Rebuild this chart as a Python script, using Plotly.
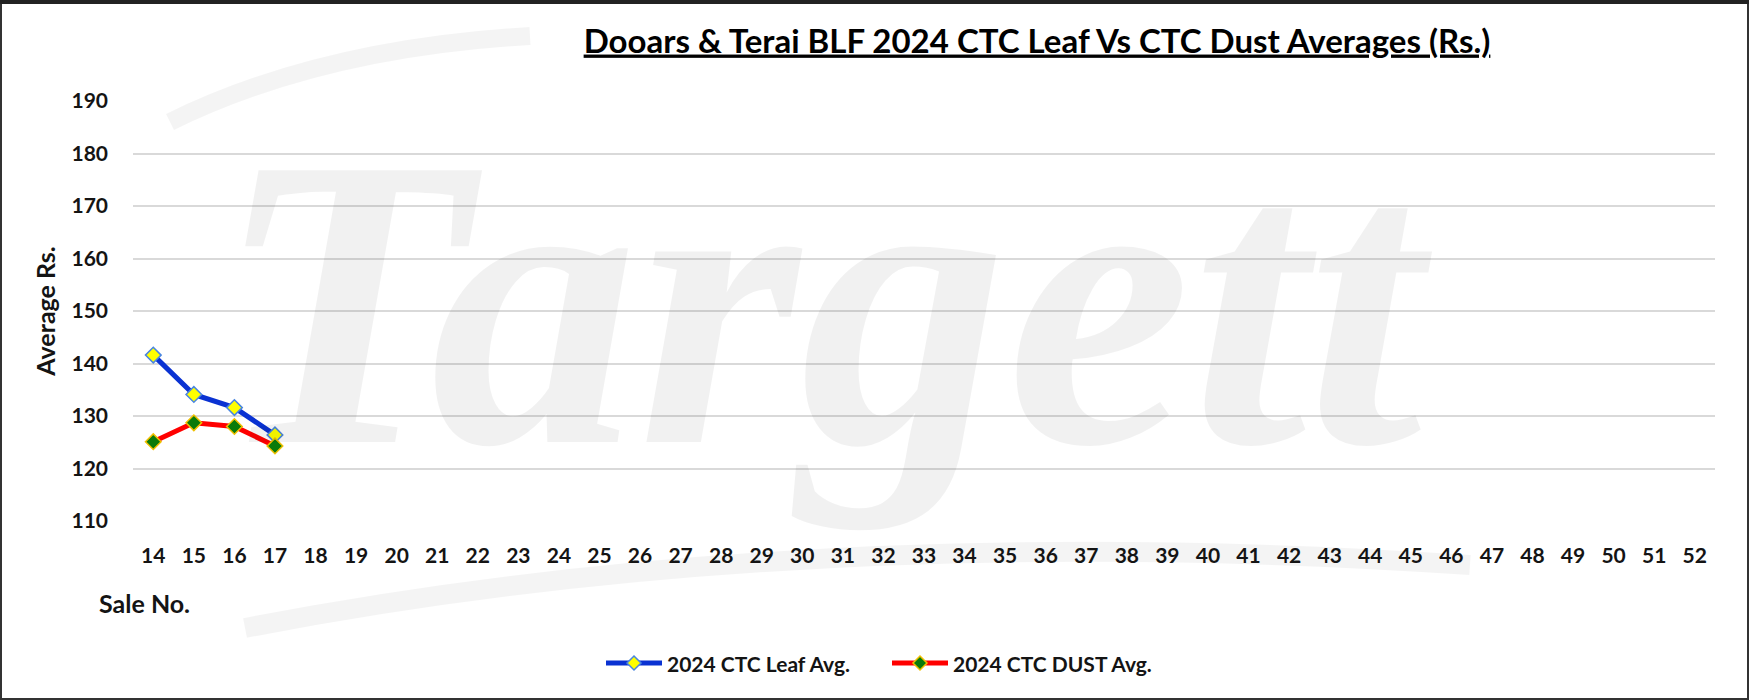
import plotly.graph_objects as go

# Sale numbers on the category axis
sale_no = [str(n) for n in range(14, 53)]

# Averages reported so far (Sales 14-17)
leaf_sales = ["14", "15", "16", "17"]
leaf_avg = [141.6, 134.1, 131.6, 126.4]
dust_sales = ["14", "15", "16", "17"]
dust_avg = [125.1, 128.7, 128.0, 124.3]

y_ticks = [110, 120, 130, 140, 150, 160, 170, 180, 190]

series_names = ["2024 CTC Leaf Avg.", "2024 CTC DUST Avg."]

W, H = 1749, 700
ML, MR, MT, MB = 133, 34, 101, 179
PW, PH = W - ML - MR, H - MT - MB


def px(x):
    return (x - ML) / PW


def py(y):
    return (H - MB - y) / PH


FONT = "Lato"
INK = "#141414"

LEAF_LINE, LEAF_FILL, LEAF_EDGE = "#0a32d2", "#ffff00", "#4a86e0"
DUST_LINE, DUST_FILL, DUST_EDGE = "#ff0000", "#0a7a0a", "#f0c000"

fig = go.Figure()

fig.add_trace(go.Scatter(
    x=leaf_sales, y=leaf_avg, mode="lines+markers", name=series_names[0],
    line=dict(color=LEAF_LINE, width=5),
    marker=dict(symbol="diamond", size=12, color=LEAF_FILL,
                line=dict(color=LEAF_EDGE, width=1.5)),
    showlegend=False,
))
fig.add_trace(go.Scatter(
    x=dust_sales, y=dust_avg, mode="lines+markers", name=series_names[1],
    line=dict(color=DUST_LINE, width=5),
    marker=dict(symbol="diamond", size=12, color=DUST_FILL,
                line=dict(color=DUST_EDGE, width=1.5)),
    showlegend=False,
))


def diamond(cx, cy, r):
    return (f"M {px(cx)} {py(cy - r)} L {px(cx + r)} {py(cy)} "
            f"L {px(cx)} {py(cy + r)} L {px(cx - r)} {py(cy)} Z")


shapes = [
    # outer frame
    dict(type="rect", xref="paper", yref="paper", layer="above",
         x0=px(1), x1=px(W - 1), y0=py(H - 1), y1=py(1),
         line=dict(color="#333333", width=2)),
    dict(type="line", xref="paper", yref="paper", layer="above",
         x0=px(0), x1=px(W), y0=py(2), y1=py(2),
         line=dict(color="#222222", width=4)),
    # faint logo swooshes behind the plot
    dict(type="path", xref="paper", yref="paper", layer="below",
         path=f"M {px(170)} {py(122)} Q {px(320)} {py(48)} {px(530)} {py(36)}",
         line=dict(color="rgba(0,0,0,0.045)", width=18)),
    dict(type="path", xref="paper", yref="paper", layer="below",
         path=f"M {px(245)} {py(628)} Q {px(800)} {py(520)} {px(1470)} {py(565)}",
         line=dict(color="rgba(0,0,0,0.045)", width=20)),
]

# legend drawn by hand: line sample + diamond + label
legend_y = 663
legend_items = [
    (606, 662, 665, series_names[0], LEAF_LINE, LEAF_FILL, LEAF_EDGE),
    (892, 948, 951, series_names[1], DUST_LINE, DUST_FILL, DUST_EDGE),
]
annotations = []
for x0, x1, xt, label, lc, fc, ec in legend_items:
    shapes.append(dict(type="line", xref="paper", yref="paper",
                       x0=px(x0), x1=px(x1), y0=py(legend_y), y1=py(legend_y),
                       line=dict(color=lc, width=5)))
    shapes.append(dict(type="path", xref="paper", yref="paper",
                       path=diamond((x0 + x1) / 2, legend_y, 7),
                       fillcolor=fc, line=dict(color=ec, width=1.5)))
    annotations.append(dict(
        text=f"<b>{label}</b>", xref="paper", yref="paper",
        x=px(xt), y=py(legend_y), xanchor="left", yanchor="middle",
        showarrow=False, font=dict(family=FONT, size=21, color=INK)))

annotations += [
    dict(text="Targett", xref="paper", yref="paper",
         x=px(825), y=py(302), xanchor="center", yanchor="middle",
         showarrow=False,
         font=dict(family="Liberation Serif", size=415,
                   color="rgba(0,0,0,0.055)", weight="bold", style="italic")),
    dict(text="<b>Sale No.</b>", xref="paper", yref="paper",
         x=px(97), y=py(603), xanchor="left", yanchor="middle",
         showarrow=False, font=dict(family=FONT, size=25, color=INK)),
]

fig.update_layout(
    width=W, height=H,
    margin=dict(l=ML, r=MR, t=MT, b=MB),
    paper_bgcolor="white", plot_bgcolor="white",
    font=dict(family=FONT, color=INK),
    title=dict(
        text="<b><u>Dooars & Terai BLF 2024 CTC Leaf Vs CTC Dust Averages (Rs.)</u></b>",
        x=1037 / W, xanchor="center", y=1 - 41 / H, yanchor="middle",
        font=dict(family=FONT, size=33, color="#000000"),
    ),
    xaxis=dict(
        type="category", categoryorder="array", categoryarray=sale_no,
        range=[-0.5, len(sale_no) - 0.5],
        showgrid=False, zeroline=False, showline=False, ticks="",
        tickfont=dict(family=FONT, size=21, color=INK, weight="bold"),
        ticklabelstandoff=20,
    ),
    yaxis=dict(
        range=[110, 190], tickvals=y_ticks,
        showgrid=True, gridcolor="#d9d9d9", gridwidth=2,
        zeroline=False, showline=False, ticks="",
        tickfont=dict(family=FONT, size=21, color=INK, weight="bold"),
        ticklabelstandoff=24,
        title=dict(text="<b>Average Rs.</b>", standoff=8,
                   font=dict(family=FONT, size=25, color=INK)),
    ),
    shapes=shapes,
    annotations=annotations,
    showlegend=False,
)

fig.write_html("out.html")
